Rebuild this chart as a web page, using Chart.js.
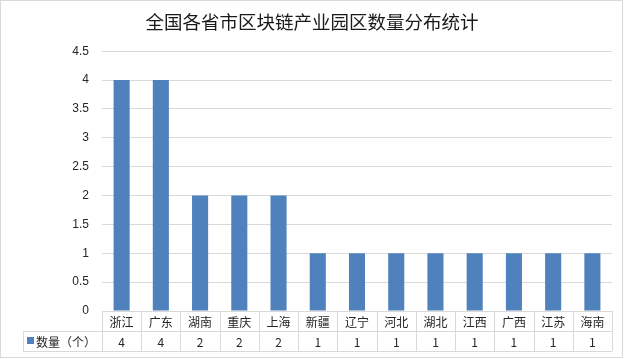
<!DOCTYPE html>
<html>
<head>
<meta charset="utf-8">
<script src="https://cdn.jsdelivr.net/npm/chart.js@4.4.0/dist/chart.umd.min.js"></script>
<style>
  html, body { margin: 0; padding: 0; background: #ffffff; }
  #wrap { width: 624px; height: 359px; }
</style>
</head>
<body>
<div id="wrap"><canvas id="parkChart"></canvas></div>
<script>
// Chart data
const provinces = ["浙江", "广东", "湖南", "重庆", "上海", "新疆", "辽宁", "河北", "湖北", "江西", "广西", "江苏", "海南"];
const parkCounts = [4, 4, 2, 2, 2, 1, 1, 1, 1, 1, 1, 1, 1];
const seriesName = "数量（个）";
const chartTitle = "全国各省市区块链产业园区数量分布统计";

const barColor = "#4F81BD";
const lineColor = "#D9D9D9";
const textColor = "#262626";
const cjkFont = "'Noto Sans CJK SC', 'Noto Sans', sans-serif";

// Excel-style data table under the plot, aligned with the x scale
const dataTable = {
    id: "dataTable",
    afterDraw(chart) {
        const { ctx, chartArea } = chart;
        const xScale = chart.scales.x;
        const left = chartArea.left;
        const right = chartArea.right;
        const top = chartArea.bottom;
        const mid = top + 20;
        const bottom = top + 40;
        const labelLeft = 23;
        const colW = (right - left) / provinces.length;

        ctx.save();
        ctx.strokeStyle = lineColor;
        ctx.lineWidth = 1;
        ctx.beginPath();
        // horizontal lines
        ctx.moveTo(left, top + 0.5); ctx.lineTo(right, top + 0.5);
        ctx.moveTo(labelLeft, mid + 0.5); ctx.lineTo(right, mid + 0.5);
        ctx.moveTo(labelLeft, bottom + 0.5); ctx.lineTo(right, bottom + 0.5);
        // vertical lines
        ctx.moveTo(labelLeft + 0.5, mid); ctx.lineTo(labelLeft + 0.5, bottom);
        for (let i = 0; i <= provinces.length; i++) {
            const xx = Math.round(left + i * colW) + 0.5;
            ctx.moveTo(xx, top); ctx.lineTo(xx, bottom);
        }
        ctx.stroke();

        // outer chart border
        ctx.strokeRect(0.5, 0.5, 622, 357);

        ctx.fillStyle = textColor;
        ctx.font = "12px " + cjkFont;
        ctx.textAlign = "center";
        ctx.textBaseline = "middle";
        provinces.forEach((name, i) => {
            const cx = xScale.getPixelForValue(i);
            ctx.fillText(name, cx, top + 11);
            ctx.fillText(String(parkCounts[i]), cx, mid + 11);
        });

        // legend key + series name
        ctx.fillStyle = barColor;
        ctx.fillRect(27, mid + 6, 7, 7);
        ctx.fillStyle = textColor;
        ctx.textAlign = "left";
        ctx.fillText(seriesName, 36, mid + 11);
        ctx.restore();
    }
};

const ctx = document.getElementById("parkChart").getContext("2d");
new Chart(ctx, {
    type: "bar",
    data: {
        labels: provinces,
        datasets: [{
            label: seriesName,
            data: parkCounts,
            backgroundColor: barColor,
            borderWidth: 0,
            categoryPercentage: 1,
            barPercentage: 0.41
        }]
    },
    options: {
        responsive: true,
        maintainAspectRatio: false,
        animation: false,
        layout: { padding: { left: 12, right: 12, top: 0, bottom: 0 } },
        plugins: {
            legend: { display: false },
            tooltip: { enabled: false },
            title: {
                display: true,
                text: chartTitle,
                color: "#1a1a1a",
                font: { family: cjkFont, size: 18.5, weight: "normal", lineHeight: 1.2 },
                padding: { top: 11, bottom: 18 }
            }
        },
        scales: {
            x: {
                grid: { display: false },
                border: { display: false },
                ticks: { display: false },
                afterFit: (scale) => { scale.height = 48; }
            },
            y: {
                min: 0,
                max: 4.5,
                grid: { color: lineColor, drawTicks: false },
                border: { display: false },
                ticks: {
                    stepSize: 0.5,
                    padding: 13,
                    color: textColor,
                    font: { family: "'Liberation Sans', Arial, sans-serif", size: 12 },
                    callback: (value) => String(value)
                },
                afterFit: (scale) => { scale.width = 90; }
            }
        }
    },
    plugins: [dataTable]
});
</script>
</body>
</html>
